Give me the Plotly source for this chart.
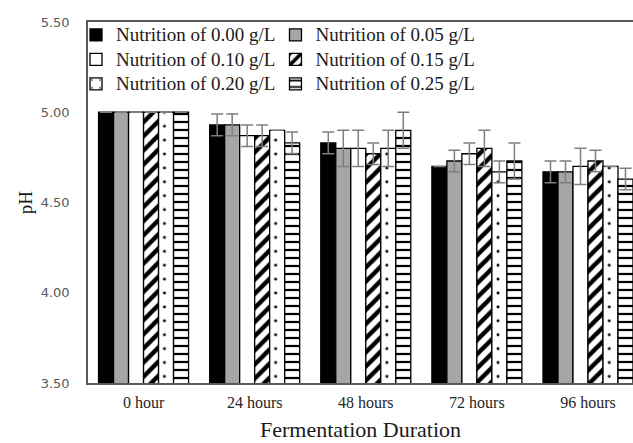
import plotly.graph_objects as go

categories = ["0 hour", "24 hours", "48 hours", "72 hours", "96 hours"]
series_names = [
    "Nutrition of 0.00 g/L",
    "Nutrition of 0.05 g/L",
    "Nutrition of 0.10 g/L",
    "Nutrition of 0.15 g/L",
    "Nutrition of 0.20 g/L",
    "Nutrition of 0.25 g/L",
]
ph_000 = [5.00, 4.93, 4.83, 4.70, 4.67]
ph_005 = [5.00, 4.93, 4.80, 4.73, 4.67]
ph_010 = [5.00, 4.87, 4.80, 4.77, 4.70]
ph_015 = [5.00, 4.87, 4.77, 4.80, 4.73]
ph_020 = [5.00, 4.90, 4.80, 4.67, 4.70]
ph_025 = [5.00, 4.83, 4.90, 4.73, 4.63]
err_000 = [0.0, 0.06, 0.06, 0.0, 0.06]
err_005 = [0.0, 0.06, 0.10, 0.06, 0.06]
err_010 = [0.0, 0.06, 0.10, 0.06, 0.10]
err_015 = [0.0, 0.06, 0.06, 0.10, 0.06]
err_020 = [0.0, 0.0, 0.10, 0.06, 0.0]
err_025 = [0.0, 0.06, 0.10, 0.10, 0.06]
y_ticks = [3.5, 4.0, 4.5, 5.0, 5.5]

values = [ph_000, ph_005, ph_010, ph_015, ph_020, ph_025]
errors = [err_000, err_005, err_010, err_015, err_020, err_025]

styles = [
    dict(color="#000000", pattern=None),
    dict(color="#a6a6a6", pattern=None),
    dict(color="#ffffff", pattern=None),
    dict(color="#ffffff", pattern=dict(shape="/", fgcolor="#000000", bgcolor="#ffffff",
                                       size=10, solidity=0.45, fillmode="replace",
                                       fgopacity=1)),
    dict(color="#ffffff", pattern=dict(shape=".", fgcolor="#000000", bgcolor="#ffffff",
                                       size=13.9, solidity=0.035, fillmode="replace",
                                       fgopacity=1)),
    dict(color="#ffffff", pattern=dict(shape="-", fgcolor="#000000", bgcolor="#ffffff",
                                       size=8, solidity=0.28, fillmode="replace",
                                       fgopacity=1)),
]

fig = go.Figure()
for i, (name, vals, errs, st) in enumerate(zip(series_names, values, errors, styles)):
    marker = dict(color=st["color"], line=dict(color="#000000", width=1.3))
    if st["pattern"] is not None:
        marker["pattern"] = st["pattern"]
    fig.add_trace(go.Bar(
        x=categories, y=vals,
        name=f'<span style="font-size:19px">{name}</span>',
        legend="legend" if i % 2 == 0 else "legend2",
        marker=marker,
        error_y=dict(type="data", array=[e if e > 0 else None for e in errs],
                     color="#7f7f7f", thickness=1.5, width=6, visible=True),
    ))

legend_common = dict(
    orientation="v", y=1.012, yanchor="top", xanchor="left",
    font=dict(family="Liberation Serif", size=16.5, color="#1a1a1a"),
    bgcolor="rgba(0,0,0,0)", itemwidth=30,
)

fig.update_layout(
    width=633, height=443,
    margin=dict(l=88, r=0, t=22, b=60),
    paper_bgcolor="white", plot_bgcolor="white",
    barmode="group", bargap=0.19, bargroupgap=0,
    showlegend=True,
    legend=dict(x=-0.022, **legend_common),
    legend2=dict(x=0.344, **legend_common),
    xaxis=dict(
        range=[-0.5, 4.405], showline=True, mirror=True, linecolor="#595959", linewidth=1.5,
        ticks="", showgrid=False, zeroline=False,
        tickfont=dict(family="Liberation Serif", size=16, color="#262626"),
        ticklabelstandoff=4,
        title=dict(text="Fermentation Duration", standoff=12,
                   font=dict(family="Liberation Serif", size=22, color="#1a1a1a")),
    ),
    yaxis=dict(
        range=[3.5, 5.5], tickvals=y_ticks, ticktext=[f"{v:.2f}" for v in y_ticks],
        showline=True, linecolor="#595959", linewidth=1.5, ticks="", showgrid=False,
        zeroline=False,
        tickfont=dict(family="DejaVu Sans", size=13, color="#595959"),
        ticklabelstandoff=14,
        title=dict(text="pH", standoff=3,
                   font=dict(family="Liberation Serif", size=19, color="#1a1a1a")),
    ),
)

fig.write_html("out.html")
